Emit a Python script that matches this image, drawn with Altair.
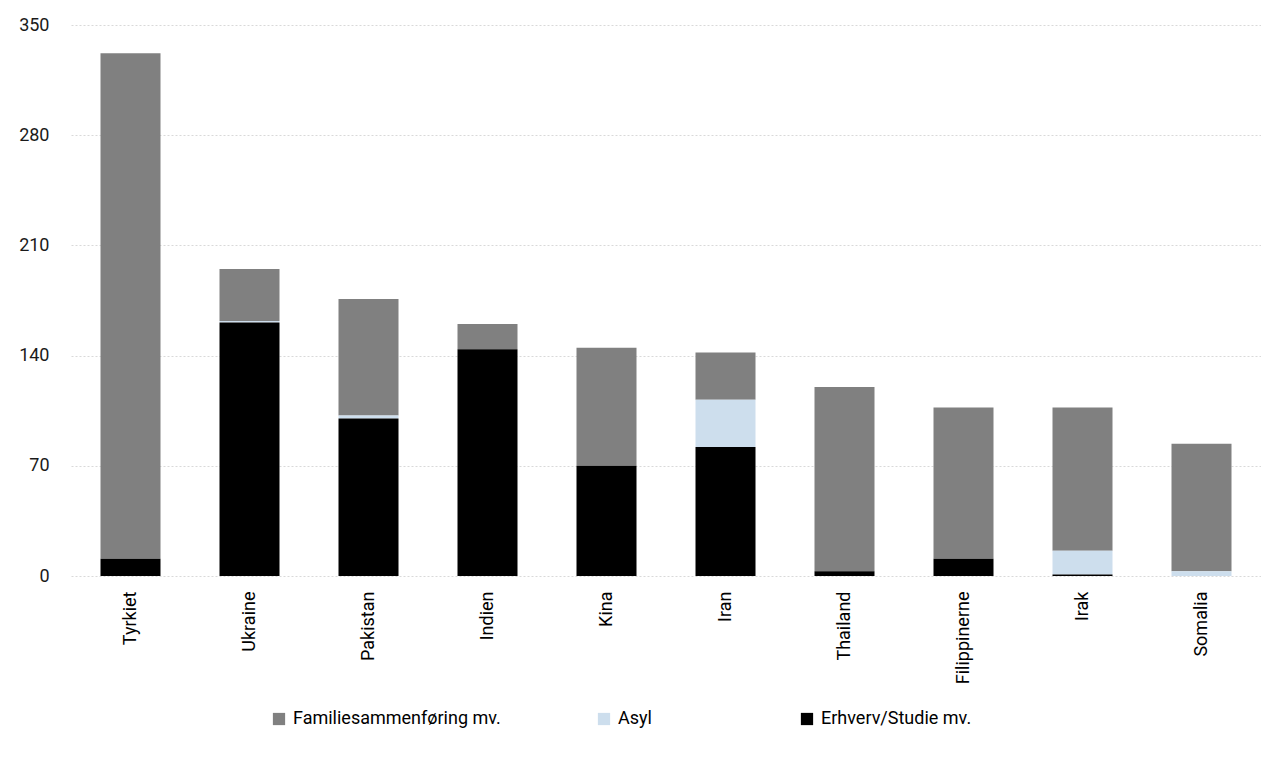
import altair as alt
import pandas as pd

countries = ["Tyrkiet", "Ukraine", "Pakistan", "Indien", "Kina", "Iran",
             "Thailand", "Filippinerne", "Irak", "Somalia"]
erhverv = [11, 161, 100, 144, 70, 82, 3, 11, 1, 0]
asyl = [0, 1, 2, 0, 0, 30, 0, 0, 15, 3]
familie = [321, 33, 74, 16, 75, 30, 117, 96, 91, 81]

series = ["Familiesammenføring mv.", "Asyl", "Erhverv/Studie mv."]
colors = ["#808080", "#cddeed", "#000000"]
stack_order = {"Erhverv/Studie mv.": 0, "Asyl": 1, "Familiesammenføring mv.": 2}

rows = []
for i, c in enumerate(countries):
    for s, vals in zip(series, [familie, asyl, erhverv]):
        rows.append({"Land": c, "Type": s, "Antal": vals[i], "ord": stack_order[s]})
df = pd.DataFrame(rows)

FONT = "Roboto"
FS = 18

chart = alt.Chart(df).mark_bar(size=60).encode(
    x=alt.X("Land:N", sort=countries, title=None,
            scale=alt.Scale(paddingInner=0.5, paddingOuter=0.25),
            axis=alt.Axis(labelAngle=-90, labelFontSize=FS, labelColor="#000000",
                          labelFont=FONT, ticks=False, domain=False, labelPadding=15,
                          grid=False)),
    y=alt.Y("Antal:Q", title=None,
            scale=alt.Scale(domain=[0, 350], nice=False),
            axis=alt.Axis(values=[0, 70, 140, 210, 280, 350], labelFontSize=FS,
                          labelColor="#1a1a1a", labelFont=FONT, ticks=False,
                          domain=False, labelPadding=22, minExtent=55, maxExtent=55,
                          gridColor="#d9d9d9", gridDash=[2, 2], gridWidth=1)),
    color=alt.Color("Type:N", sort=series,
                    scale=alt.Scale(domain=series, range=colors),
                    legend=alt.Legend(title=None, orient="none", direction="horizontal",
                                      legendX=199, legendY=685, symbolType="square",
                                      symbolSize=150, symbolStrokeWidth=0,
                                      labelFontSize=FS, labelFont=FONT, labelLimit=500,
                                      labelColor="#000000", columnPadding=94,
                                      labelOffset=5,
                                      labelExpr="datum.label == 'Asyl' ? 'Asyl\u2800\u2800\u2800\u2800' : datum.label")),
    order=alt.Order("ord:Q", sort="ascending"),
).properties(
    width=1190, height=551,
    padding={"left": 8, "top": 8, "right": 0, "bottom": 5},
).configure_view(stroke=None)

chart.save("out.html", embed_options={"renderer": "svg", "actions": False})
